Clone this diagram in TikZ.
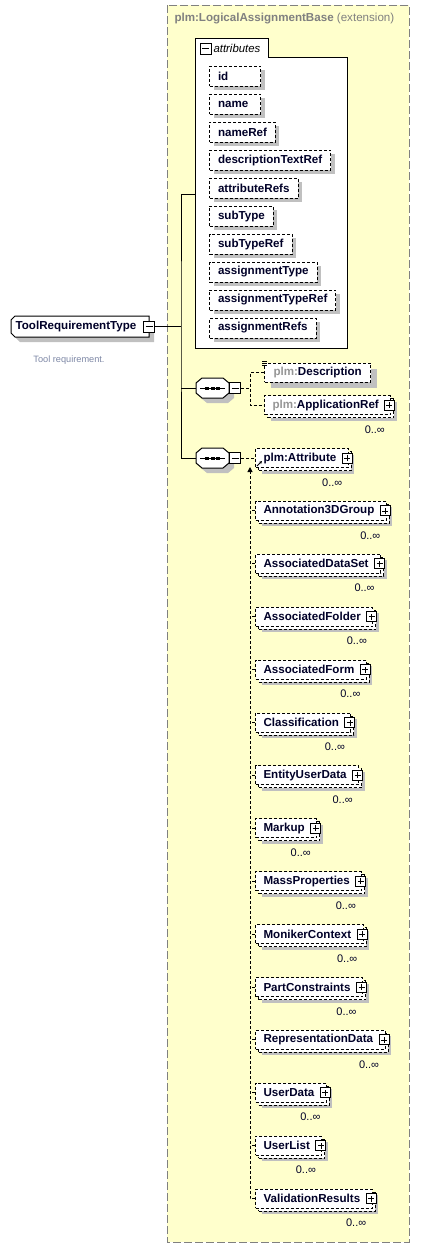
\documentclass[tikz,border=0pt]{standalone}
\usepackage{fontspec}
\setmainfont{Liberation Sans}
\usetikzlibrary{shadows,arrows.meta}

\definecolor{extfill}{RGB}{255,255,204}
\definecolor{extline}{RGB}{128,128,128}
\definecolor{shade}{RGB}{192,192,192}
\definecolor{nametext}{RGB}{0,0,40}
\definecolor{doctext}{RGB}{125,135,165}
\definecolor{prefix}{RGB}{150,150,150}

\newlength\labw
\newcommand\leftlabel[2]{\settowidth\labw{#2}\ifdim\labw<#1\relax\labw=#1\relax\fi\makebox[\labw][l]{#2}}

\tikzset{
  opt/.style={dash pattern=on 3pt off 2pt},
  shade box/.style={general shadow={fill=shade, draw=none, solid, shadow xshift=#1, shadow yshift=-#1}},
  attr/.style={draw, opt, fill=white, anchor=west, minimum height=20pt, inner xsep=8.5pt, text=nametext, shade box=4pt},
  single/.style={draw, opt, fill=white, anchor=west, minimum height=19pt, inner xsep=8pt, text=nametext, shade box=6pt},
  elem/.style={single, general shadow={fill=white, draw=black, opt, shadow xshift=3pt, shadow yshift=-3pt}},
  plusbox/.style={draw, solid, fill=white, minimum size=10pt, inner sep=0pt,
    path picture={\draw[line width=0.8pt] ([xshift=2pt]path picture bounding box.west) -- ([xshift=-2pt]path picture bounding box.east)
      ([yshift=2pt]path picture bounding box.south) -- ([yshift=-2pt]path picture bounding box.north);}},
  minusbox/.style={draw, solid, fill=white, minimum size=11pt, inner sep=0pt,
    path picture={\draw[line width=0.8pt] ([xshift=2pt]path picture bounding box.west) -- ([xshift=-2pt]path picture bounding box.east);}},
  mult/.style={font=\fontsize{11}{12}\selectfont\mdseries, text=nametext, inner sep=0pt, anchor=north east},
  seq/.style={minimum width=33pt, minimum height=20pt, inner sep=0pt,
    path picture={\draw ([xshift=4pt]path picture bounding box.west) -- ([xshift=-4pt]path picture bounding box.east);
      \foreach \d in {-7.5,-2,3.5} \fill ([xshift=\d pt, yshift=-1.5pt]path picture bounding box.center) rectangle ++(4pt,3pt);}}
}

\begin{document}
\begin{tikzpicture}[x=1pt, y=-1pt, line width=1pt, font=\fontsize{11.6}{13}\selectfont\bfseries]
\useasboundingbox (0,0) rectangle (439,1248);

% extension base
\draw[extline, fill=extfill, dash pattern=on 8pt off 3pt] (167,5) rectangle (409,1242);
\node[anchor=west, inner sep=0pt, text=extline] (extname) at (174,19) {plm:LogicalAssignmentBase \mdseries(extension)};

% attributes group
\draw[fill=white] (195,38) -- (268,38) -- (268,57) -- (347,57) -- (347,348) -- (195,348) -- cycle;
\node[minusbox] (attminus) at (205.5,48.5) {};
\node[anchor=west, inner sep=0pt, font=\fontsize{11.4}{13}\selectfont\mdseries\itshape] (atttitle) at (213,48) {attributes};
\coordinate (attin) at (195,194);
\foreach \at [count=\i from 0] in {id, name, nameRef, descriptionTextRef, attributeRefs, subType, subTypeRef, assignmentType, assignmentTypeRef, assignmentRefs}
  \node[attr] (a\i) at (209,76+28*\i) {\leftlabel{34pt}{\at}};

% root type
\draw[fill=white, shade box=5pt] (15,316) -- (149,316) -- (149,337) -- (15,337) -- (11,333) -- (11,320) -- cycle;
\node[text=nametext, inner sep=0pt] (tool) at (76,326.5) {ToolRequirementType};
\node[minusbox] (toolminus) at (149,326.5) {};
\node[font=\fontsize{9.2}{11}\selectfont\mdseries, text=doctext] (tooldoc) at (69,360) {Tool requirement.};

% sequences
\foreach \s/\y in {A/388, B/458} {
  \draw[fill=white, shade box=5pt] (202,\y-10) -- (223,\y-10) -- (229,\y-5) -- (229,\y+5) -- (223,\y+10) -- (202,\y+10) -- (196,\y+5) -- (196,\y-5) -- cycle;
  \node[seq] (seq\s) at (212.5,\y) {};
  \node[minusbox] (minus\s) at (235,\y) {};
}
\coordinate (trunk) at (181,326.5);
\draw (toolminus.east) -- (trunk);
\draw (attin) -| (trunk) |- (seqB.west);
\draw (trunk |- seqA.west) -- (seqA.west);

% first sequence
\node[single, inner xsep=9pt] (descr) at (264,372.5) {\textcolor{prefix}{plm:}Description};
\foreach \k in {0,2,4} \draw[line width=0.7pt] ([shift={(-2,-1+\k)}]descr.north west) -- ++(5,0);
\node[elem] (appref) at (264,405) {\textcolor{prefix}{plm:}ApplicationRef\hspace{4pt}\null};
\node[plusbox] (appplus) at ([xshift=-2pt]appref.east) {};
\node[mult] (appmult) at ([shift={(-6,10)}]appref.south east) {0..∞};
\coordinate (forkA) at (250,388);
\draw[opt] (minusA) -- (forkA);
\draw[opt] (descr.west) -| (forkA) |- (appref.west);

% second sequence
\coordinate (forkB) at (250,467);
\foreach \nm [count=\i from 0] in {plm:Attribute, Annotation3DGroup, AssociatedDataSet, AssociatedFolder, AssociatedForm, Classification, EntityUserData, Markup, MassProperties, MonikerContext, PartConstraints, RepresentationData, UserData, UserList, ValidationResults} {
  \node[elem] (e\i) at (255,458+52.9*\i) {\nm\hspace{4pt}\null};
  \node[plusbox] (p\i) at ([xshift=-1.5pt]e\i.east) {};
  \node[mult] (m\i) at ([shift={(-6,10)}]e\i.south east) {0..∞};
  \ifnum\i>0 \draw[opt] (e\i.west) -- (e\i.west -| forkB); \fi
}
\draw[opt] (minusB) -- (e0.west);
\draw[opt, -{Triangle[length=5pt, width=5pt]}] (e14.west) -| (forkB);
\draw[line width=0.8pt, -{Stealth[length=3pt, width=3pt]}] ([shift={(2,-2)}]e0.south west) -- ++(5,-5);

\end{tikzpicture}
\end{document}
